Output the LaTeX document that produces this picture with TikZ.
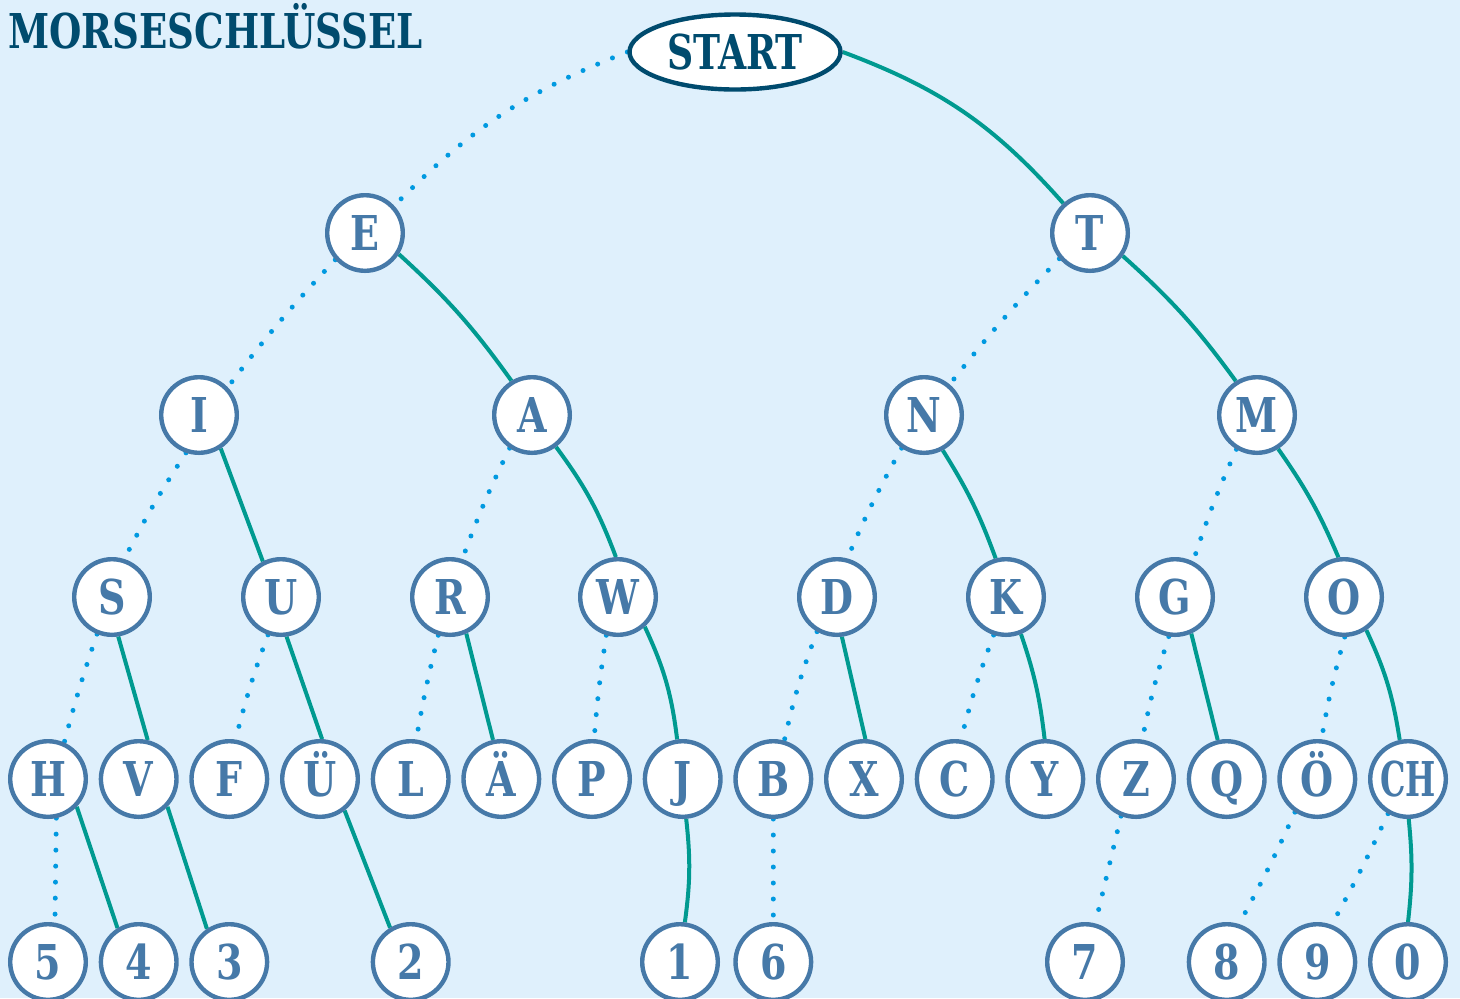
\documentclass[tikz,border=0pt]{standalone}
\usepackage{fontspec}
\setmainfont{DejaVu Serif Condensed}
\usetikzlibrary{shapes.geometric}
\definecolor{bg}{HTML}{DFF0FC}
\definecolor{teal1}{HTML}{009A90}
\definecolor{dotblue}{HTML}{0099E0}
\definecolor{cblue}{HTML}{4679A8}
\definecolor{dark}{HTML}{004B6E}
\pgfdeclarelayer{bglayer}
\pgfdeclarelayer{edgelayer}
\pgfsetlayers{bglayer,edgelayer,main}
\newcommand{\lt}[1]{\scalebox{0.88}[1]{#1}}
\tikzset{
  letter/.style={circle, draw=cblue, line width=2.2pt, fill=white, minimum size=37.8pt,
    inner sep=0pt, text=cblue, text height=17.5pt, text depth=0pt,
    font=\fontsize{24}{24}\selectfont\bfseries},
  startnode/.style={ellipse, draw=dark, line width=2.2pt, fill=white, minimum width=105.5pt,
    minimum height=37.5pt, inner sep=0pt, text=dark, text height=17.5pt, text depth=0pt,
    font=\fontsize{24}{24}\selectfont\bfseries},
  solidline/.style={draw=teal1, line width=2pt},
  dotline/.style={draw=dotblue, line width=2.5pt, line cap=round, dash pattern=on 0pt off 8pt},
}
\begin{document}
\begin{tikzpicture}[x=0.5pt,y=0.5pt]
\begin{pgfonlayer}{bglayer}
\fill[bg] (0,0) rectangle (1460,-998);
\end{pgfonlayer}
\useasboundingbox (0,0) rectangle (1460,-998);
\node[anchor=base west, text=dark, font=\fontsize{24}{24}\selectfont\bfseries, inner sep=0pt] (title) at (8,-48) {\scalebox{0.86}[1]{MORSESCHLÜSSEL}};
% nodes
\node[startnode] (start) at (735,-52) {\scalebox{0.84}[1]{START}};
\node[letter] (E) at (365,-233) {\lt{E}};
\node[letter] (T) at (1090,-233) {\lt{T}};
\node[letter] (I) at (199,-415) {\lt{I}};
\node[letter] (A) at (532,-415) {\lt{A}};
\node[letter] (N) at (924,-415) {\lt{N}};
\node[letter] (M) at (1257,-415) {\lt{M}};
\node[letter] (S) at (112,-597) {\lt{S}};
\node[letter] (U) at (281,-597) {\lt{U}};
\node[letter] (R) at (450,-597) {\lt{R}};
\node[letter] (W) at (618,-597) {\lt{W}};
\node[letter] (D) at (837,-597) {\lt{D}};
\node[letter] (K) at (1006,-597) {\lt{K}};
\node[letter] (G) at (1175,-597) {\lt{G}};
\node[letter] (O) at (1344,-597) {\lt{O}};
\node[letter] (H) at (48,-779) {\lt{H}};
\node[letter] (V) at (138.7,-779) {\lt{V}};
\node[letter] (F) at (229.3,-779) {\lt{F}};
\node[letter] (UE) at (320,-779) {\lt{Ü}};
\node[letter] (L) at (410.7,-779) {\lt{L}};
\node[letter] (AE) at (501.3,-779) {\lt{Ä}};
\node[letter] (P) at (592,-779) {\lt{P}};
\node[letter] (J) at (682.7,-779) {\lt{J}};
\node[letter] (B) at (773.3,-779) {\lt{B}};
\node[letter] (X) at (864,-779) {\lt{X}};
\node[letter] (C) at (954.7,-779) {\lt{C}};
\node[letter] (Y) at (1045.3,-779) {\lt{Y}};
\node[letter] (Z) at (1136,-779) {\lt{Z}};
\node[letter] (Q) at (1226.7,-779) {\lt{Q}};
\node[letter] (OE) at (1317.3,-779) {\lt{Ö}};
\node[letter] (CH) at (1408,-779) {\scalebox{0.74}[1]{CH}};
\node[letter] (n5) at (48,-962) {\lt{5}};
\node[letter] (n4) at (138.7,-962) {\lt{4}};
\node[letter] (n3) at (229.3,-962) {\lt{3}};
\node[letter] (n2) at (410.7,-962) {\lt{2}};
\node[letter] (n1) at (680,-962) {\lt{1}};
\node[letter] (n6) at (773.3,-962) {\lt{6}};
\node[letter] (n7) at (1085,-962) {\lt{7}};
\node[letter] (n8) at (1226.7,-962) {\lt{8}};
\node[letter] (n9) at (1317.3,-962) {\lt{9}};
\node[letter] (n0) at (1408,-962) {\lt{0}};
% edges
\begin{pgfonlayer}{edgelayer}
% dotted (dot = left child)
\draw[dotline] (start.west) to[bend right=12] (E.43);
\draw[dotline] (E.-138) to[bend right=3] (I.44);
\draw[dotline] (I.-109) to[bend right=3] (S.72);
\draw[dotline] (S.-112) to[bend right=2] (H.66);
\draw[dotline] (H.-78) to (n5.80);
\draw[dotline] (U.-109) to[bend right=3] (F.81);
\draw[dotline] (A.-124) to[bend right=3] (R.72);
\draw[dotline] (R.-107) to[bend right=2] (L.82);
\draw[dotline] (W.-107) to[bend right=2] (P.87);
\draw[dotline] (T.-140) to[bend right=3] (N.50);
\draw[dotline] (N.-124) to[bend right=3] (D.75);
\draw[dotline] (D.-120) to[bend right=4] (B.74);
\draw[dotline] (B.-90) to (n6.90);
\draw[dotline] (K.-108) to[bend right=3] (C.81);
\draw[dotline] (M.-121) to[bend right=3] (G.63);
\draw[dotline] (G.-99) to[bend right=3] (Z.81);
\draw[dotline] (Z.-112) to (n7.75);
\draw[dotline] (O.-89) to[bend right=3] (OE.84);
\draw[dotline] (OE.-124) to[bend left=2] (n8.72);
\draw[dotline] (CH.-120) to[bend left=2] (n9.69);
% solid (dash = right child)
\draw[solidline] (start.east) to[bend left=14] (T.132);
\draw[solidline] (E.-32) to[bend left=6] (A.121);
\draw[solidline] (T.-35) to[bend left=6] (M.122);
\draw[solidline] (I.-57) to (U.117);
\draw[solidline] (A.-53) to[bend left=8] (W.93);
\draw[solidline] (N.-62) to[bend left=6] (K.105);
\draw[solidline] (M.-58) to[bend left=6] (O.98);
\draw[solidline] (S.-81) to (V.77);
\draw[solidline] (U.-82) to (UE.87);
\draw[solidline] (R.-66) to (AE.102);
\draw[solidline] (W.-48) to[bend left=9] (J.98);
\draw[solidline] (D.-83) to (X.88);
\draw[solidline] (K.-68) to[bend left=6] (Y.91);
\draw[solidline] (G.-66) to (Q.103);
\draw[solidline] (O.-56) to[bend left=8] (CH.102);
\draw[solidline] (H.-44) to (n4.122);
\draw[solidline] (V.-44) to (n3.124);
\draw[solidline] (UE.-52) to (n2.121);
\draw[solidline] (J.-85) to[bend left=7] (n1.83);
\draw[solidline] (CH.-89) to[bend left=6] (n0.90);
\end{pgfonlayer}
\end{tikzpicture}
\end{document}
